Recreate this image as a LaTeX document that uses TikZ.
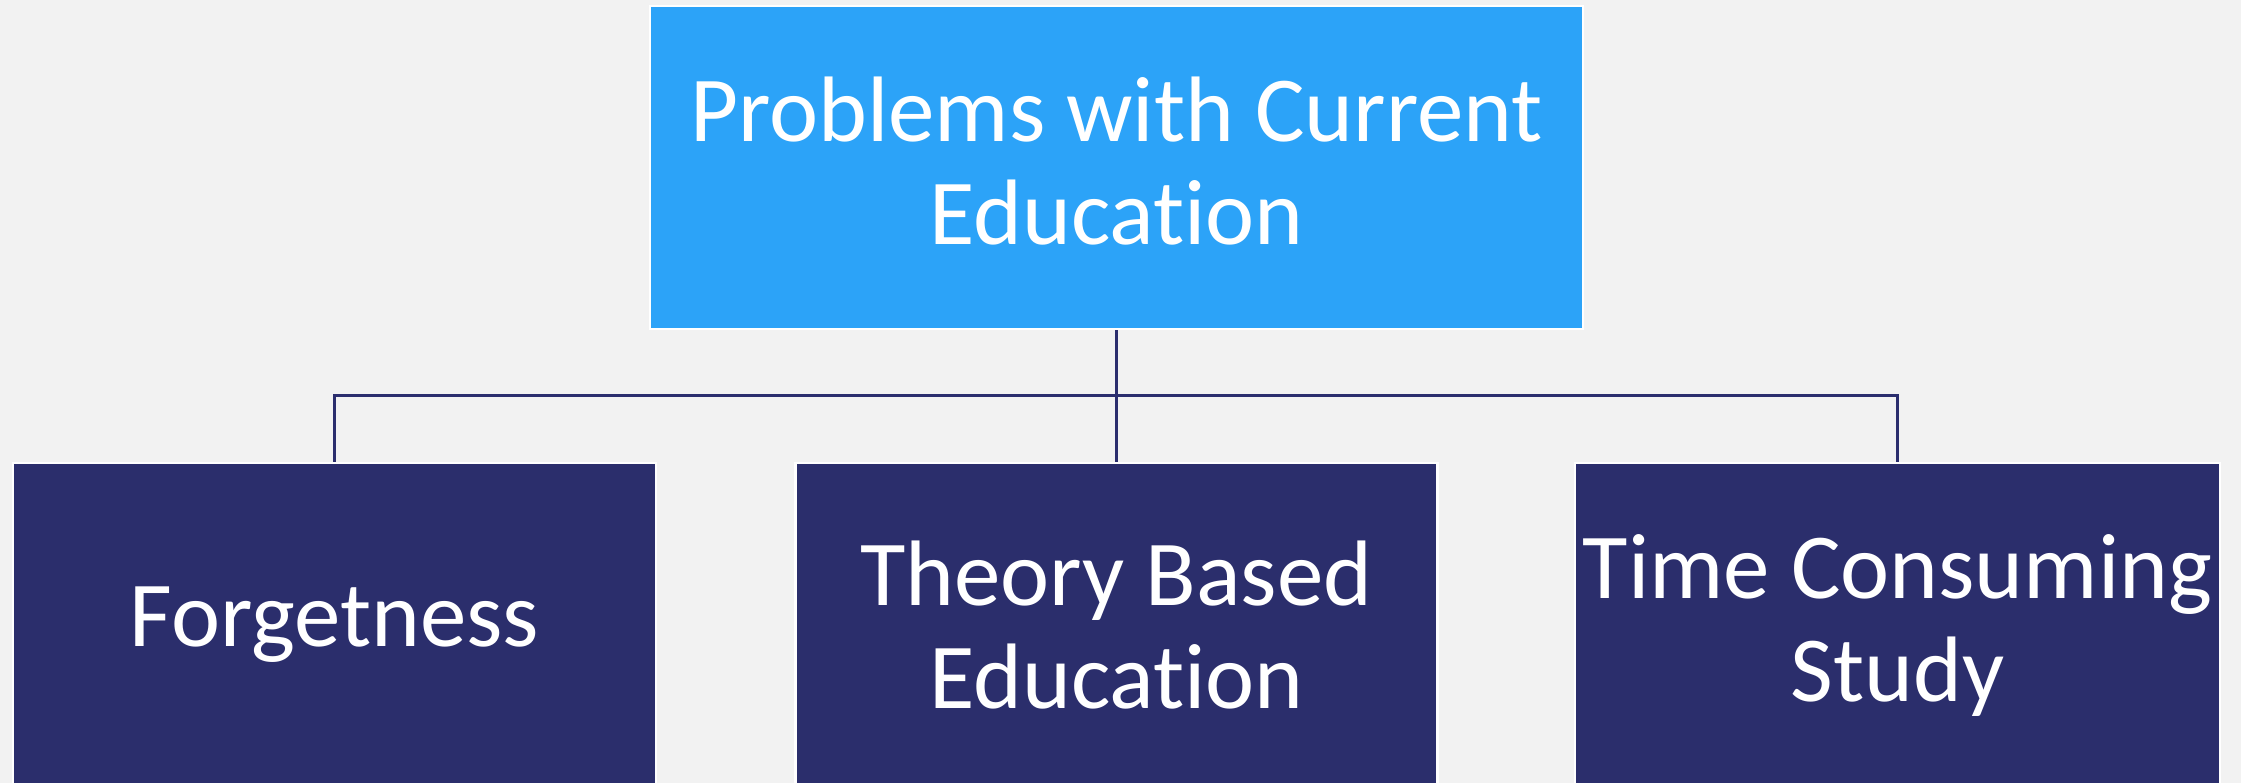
\documentclass[tikz,border=0pt]{standalone}
\usepackage{fontspec}
\setmainfont{Carlito}[Ligatures={NoCommon}]
\definecolor{bg}{HTML}{F2F2F2}
\definecolor{topblue}{HTML}{2CA3F8}
\definecolor{navy}{HTML}{2B2E6C}
\definecolor{linec}{HTML}{2B2E6E}
\begin{document}
\begin{tikzpicture}[x=1pt,y=-1pt,
  box/.style={rectangle, draw=white, line width=2.5pt, text=white, align=center,
    font=\fontsize{93}{103}\selectfont, inner sep=0pt},
  conn/.style={draw=linec, line width=3pt}]
\useasboundingbox (0,0) rectangle (2241,783);
\clip (0,0) rectangle (2241,783);
\fill[bg] (0,0) rectangle (2241,783);
\node[box, fill=topblue, minimum width=933pt, minimum height=323pt, text depth=14pt] (top) at (1116.5,167.5) {Problems with Current\\Education};
\node[box, fill=navy, minimum width=643pt, minimum height=324pt] (left) at (334.5,625) {Forgetness};
\node[box, fill=navy, minimum width=642pt, minimum height=324pt] (mid) at (1116.5,625) {Theory Based\\Education};
\node[box, fill=navy, minimum width=645pt, minimum height=324pt] (right) at (1897.5,625) {Time Consuming\\Study};
\coordinate (hub) at (1116.5,396);
\draw[conn] (top.south) -- (mid.north);
\draw[conn] (left.north) |- (hub) -| (right.north);
\end{tikzpicture}
\end{document}
